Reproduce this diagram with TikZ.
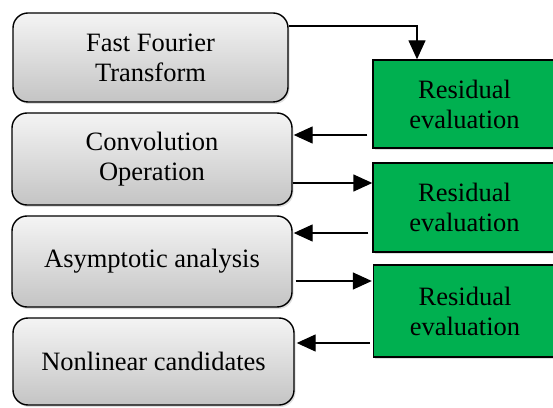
\documentclass[tikz,border=0pt]{standalone}
\usepackage{fontspec}
\setmainfont{Liberation Serif}
\usetikzlibrary{arrows.meta,shadows,calc}
\definecolor{boxtop}{HTML}{F4F4F4}
\definecolor{boxbot}{HTML}{C4C4C4}
\definecolor{resgreen}{HTML}{00B050}
\begin{document}
\begin{tikzpicture}[x=1pt,y=1pt,
  method/.style={draw=black,line width=1.4pt,rounded corners=15pt,
    top color=boxtop,bottom color=boxbot,
    drop shadow={shadow xshift=1.5pt,shadow yshift=-2pt,opacity=0.25},
    align=center,font=\fontsize{26.5}{30}\selectfont,inner sep=0pt},
  resid/.style={draw=black,line width=1.4pt,fill=resgreen,
    drop shadow={shadow xshift=1.5pt,shadow yshift=-2pt,opacity=0.25},
    minimum width=183pt,align=center,
    font=\fontsize{26.5}{30}\selectfont,inner sep=0pt},
  flow/.style={line width=1.4pt,-{Triangle[length=19pt,width=17pt]}}]
\useasboundingbox (0,0) rectangle (553,407);
\clip (0,0) rectangle (553,407);

% method boxes
\node[method,minimum width=275pt,minimum height=89pt] (b1) at (150.5,349.5) {Fast Fourier\\Transform};
\node[method,minimum width=280pt,minimum height=92pt] (b2) at (152,248) {Convolution\\Operation};
\node[method,minimum width=280pt,minimum height=91pt] (b3) at (152,145.5) {Asymptotic analysis};
\node[method,minimum width=281pt,minimum height=87pt] (b4) at (153.5,45.5) {Nonlinear candidates};

% residual evaluation boxes
\node[resid,minimum height=88pt] (r1) at (464.5,303) {Residual\\evaluation};
\node[resid,minimum height=89pt] (r2) at (464.5,199.5) {Residual\\evaluation};
\node[resid,minimum height=92pt] (r3) at (465,96) {Residual\\evaluation};

% connector end points
\coordinate (s1) at ([yshift=31.5pt]b1.east);
\coordinate (t1) at ([xshift=-47.5pt]r1.north);
\coordinate (s2) at ([xshift=-5pt,yshift=-31pt]r1.west);
\coordinate (s3) at ([yshift=-24pt]b2.east);
\coordinate (s4) at ([xshift=-4pt,yshift=-25.5pt]r2.west);
\coordinate (s5) at ([xshift=3pt,yshift=-19.5pt]b3.east);
\coordinate (s6) at ([xshift=-3pt,yshift=-32pt]r3.west);

% connectors
\draw[flow] (s1) -| (t1);
\draw[flow] (s2) -- ([xshift=1pt]s2 -| b2.east);
\draw[flow] (s3) -- (s3 -| r2.west);
\draw[flow] (s4) -- ([xshift=1pt]s4 -| b3.east);
\draw[flow] (s5) -- ([xshift=-1pt]s5 -| r3.west);
\draw[flow] (s6) -- ([xshift=2pt]s6 -| b4.east);
\end{tikzpicture}
\end{document}
